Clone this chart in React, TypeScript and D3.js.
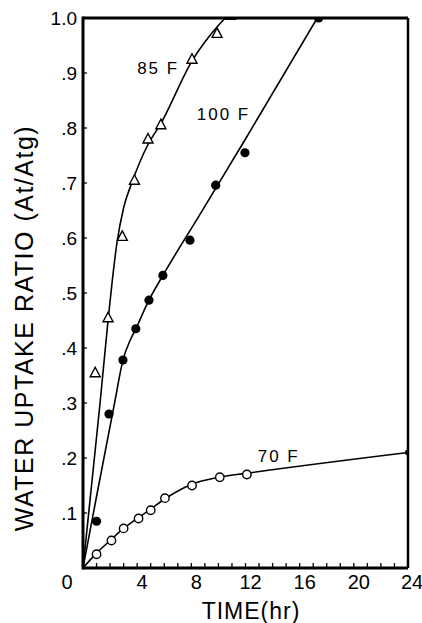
import React from "react";
import * as d3 from "d3";

// measured markers
const t85 = [0.9, 1.85, 2.9, 3.8, 4.8, 5.75, 8.05, 9.9, 10.9];
const v85 = [0.355, 0.455, 0.603, 0.705, 0.78, 0.806, 0.925, 0.972, 1.005];
const t100 = [1.0, 1.92, 2.95, 3.9, 4.87, 5.9, 7.9, 9.8, 11.96, 17.4];
const v100 = [0.085, 0.28, 0.378, 0.435, 0.487, 0.532, 0.596, 0.696, 0.755, 1.0];
const t70 = [1.0, 2.1, 3.0, 4.1, 5.0, 6.05, 8.05, 10.1, 12.1];
const v70 = [0.025, 0.05, 0.072, 0.09, 0.105, 0.127, 0.15, 0.165, 0.17];

// fitted curves
const c85t = [0, 1.26, 1.85, 2.5, 3.0, 3.6, 4.8, 5.7, 8.1, 9.4, 10.5];
const c85v = [0, 0.3, 0.45, 0.59, 0.655, 0.7, 0.77, 0.806, 0.924, 0.969, 1.0];
const c100t = [0, 1, 2.36, 2.95, 3.5, 3.9, 4.87, 5.9, 8.64, 12, 17.3];
const c100v = [0, 0.13, 0.304, 0.378, 0.415, 0.435, 0.487, 0.532, 0.643, 0.78, 1.0];
const c70t = [0, 1, 2, 3, 4, 5, 6, 8, 10, 12, 24];
const c70v = [0, 0.027, 0.05, 0.072, 0.09, 0.107, 0.125, 0.152, 0.165, 0.172, 0.21];

const xMajor = [0, 4, 8, 12, 16, 20, 24];
const yTicks = [0.1, 0.2, 0.3, 0.4, 0.5, 0.6, 0.7, 0.8, 0.9, 1.0];
const yTickLabels = [".1", ".2", ".3", ".4", ".5", ".6", ".7", ".8", ".9", "1.0"];

const font = "'Liberation Sans', Arial, sans-serif";

export default function App() {
  const x = d3.scaleLinear().domain([0, 24]).range([83, 408]);
  const y = d3.scaleLinear().domain([0, 1]).range([568, 18]);

  const line = d3
    .line<[number, number]>()
    .x((d) => x(d[0]))
    .y((d) => y(d[1]))
    .curve(d3.curveMonotoneX);

  const zip = (a: number[], b: number[]) => a.map((v, i) => [v, b[i]] as [number, number]);

  const tri = (cx: number, cy: number) =>
    `M${cx},${cy - 5.5}L${cx + 5},${cy + 4}L${cx - 5},${cy + 4}Z`;

  const minor = d3.range(1, 24);

  return (
    <svg width={422} height={623} style={{ position: "absolute", left: 0, top: 0, background: "#fff" }}>
      <defs>
        <clipPath id="plot">
          <rect x={x(0)} y={y(1)} width={x(24) - x(0)} height={y(0) - y(1)} />
        </clipPath>
      </defs>

      {/* curves */}
      <g fill="none" stroke="#000" strokeWidth={1.6} clipPath="url(#plot)">
        <path d={line(zip(c85t, c85v)) || ""} />
        <path d={line(zip(c100t, c100v)) || ""} />
        <path d={line(zip(c70t, c70v)) || ""} />
      </g>

      {/* markers */}
      <g clipPath="url(#plot)">
        {t85.map((t, i) => (
          <path key={"a" + i} d={tri(x(t), y(v85[i]))} fill="#fff" stroke="#000" strokeWidth={1.4} />
        ))}
        {t100.map((t, i) => (
          <circle key={"b" + i} cx={x(t)} cy={y(v100[i])} r={4.6} fill="#000" />
        ))}
        {t70.map((t, i) => (
          <circle key={"c" + i} cx={x(t)} cy={y(v70[i])} r={4.2} fill="#fff" stroke="#000" strokeWidth={1.4} />
        ))}
        <circle cx={x(24)} cy={y(0.21)} r={3} fill="#000" />
      </g>

      {/* ticks */}
      <g stroke="#000" strokeWidth={1.3}>
        {minor.map((t) => (
          <line key={t} x1={x(t)} x2={x(t)} y1={y(0)} y2={y(0) - 5} />
        ))}
        {yTicks.slice(0, 9).map((v) => (
          <line key={v} x1={x(0)} x2={x(0) + 4} y1={y(v)} y2={y(v)} />
        ))}
      </g>

      {/* frame */}
      <g stroke="#000" fill="none">
        <line x1={x(0)} x2={x(24)} y1={y(1)} y2={y(1)} strokeWidth={3} />
        <line x1={x(24)} x2={x(24)} y1={y(1)} y2={y(0)} strokeWidth={2.5} />
        <line x1={x(0)} x2={x(24)} y1={y(0)} y2={y(0)} strokeWidth={3} />
        <line x1={x(0)} x2={x(0)} y1={y(1) - 1.5} y2={y(0) + 1.5} strokeWidth={3} />
      </g>

      {/* tick labels */}
      <g fontFamily={font} fontSize={19} fill="#000">
        {yTicks.map((v, i) => (
          <text key={v} x={x(0) - 6} y={y(v)} dy="0.36em" textAnchor="end">
            {yTickLabels[i]}
          </text>
        ))}
      </g>
      <g fontFamily={font} fontSize={20} fill="#000">
        {xMajor.map((t) => (
          <text key={t} x={t === 0 ? x(0) - 16 : x(t) + (t === 24 ? 4 : 5)} y={589} textAnchor="middle">
            {t}
          </text>
        ))}
      </g>

      {/* series labels */}
      <g fontFamily={font} fontSize={17} fill="#000" letterSpacing={2}>
        <text x={x(4.0)} y={y(0.898)}>85 F</text>
        <text x={x(8.4)} y={y(0.815)}>100 F</text>
        <text x={x(12.9)} y={y(0.192)}>70 F</text>
      </g>

      {/* axis titles */}
      <text x={251} y={619} fontFamily={font} fontSize={23} textAnchor="middle" letterSpacing={1}>
        TIME(hr)
      </text>
      <text
        transform="translate(33,328) rotate(-90)"
        fontFamily={font}
        fontSize={25}
        textAnchor="middle"
        letterSpacing={1.5}
      >
        WATER UPTAKE RATIO (At/Atg)
      </text>
    </svg>
  );
}
